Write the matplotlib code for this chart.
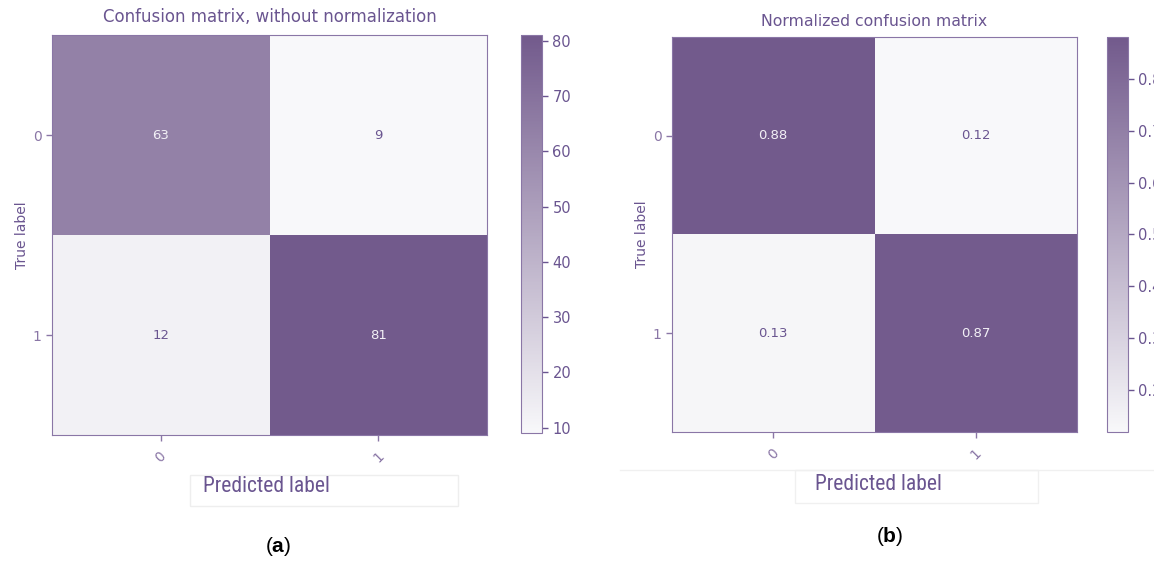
import numpy as np
import matplotlib as mpl
mpl.use("Agg")
import matplotlib.pyplot as plt
from matplotlib.colors import LinearSegmentedColormap
from matplotlib.patches import Rectangle
from matplotlib.lines import Line2D

mpl.rcParams['font.family'] = 'DejaVu Sans'
mpl.rcParams['mathtext.fontset'] = 'custom'
mpl.rcParams['mathtext.rm'] = 'Liberation Sans'
mpl.rcParams['mathtext.bf'] = 'Liberation Sans:bold'

# class labels and confusion matrices
classes = ['0', '1']
cm_counts = [[63, 9], [12, 81]]
cm_norm = [[0.88, 0.12], [0.13, 0.87]]
cbar_ticks_counts = [10, 20, 30, 40, 50, 60, 70, 80]
cbar_ticks_norm = [0.2, 0.3, 0.4, 0.5, 0.6, 0.7, 0.8]

txt_col = '#6a5590'
edge_col = '#8a76a6'
cmap = LinearSegmentedColormap.from_list('purp', ['#f8f8fa', '#725a8c'])
narrow = ['Roboto Condensed', 'DejaVu Sans Condensed', 'Open Sans']


def plot_cm(fig, ax_rect, cax_rect, cm, title, fmt, ticks, title_y, title_fs):
    cm = np.asarray(cm, dtype=float)
    ax = fig.add_axes(ax_rect)
    cax = fig.add_axes(cax_rect)
    im = ax.imshow(cm, interpolation='nearest', cmap=cmap, aspect='auto',
                   vmin=cm.min(), vmax=cm.max())
    ax.set_title(title, color=txt_col, fontsize=title_fs, y=title_y)
    cb = fig.colorbar(im, cax=cax, ticks=ticks)
    cb.outline.set_edgecolor(edge_col)
    cax.tick_params(colors=txt_col, labelsize=10.5, length=4, width=1)
    for t in cax.get_yticklabels():
        t.set_color(txt_col)

    ax.set_xticks(range(len(classes)))
    ax.set_xticklabels(classes, rotation=45, color=txt_col, fontsize=10)
    ax.set_yticks(range(len(classes)))
    ax.set_yticklabels(classes, color=txt_col, fontsize=10)
    ax.tick_params(colors=edge_col, length=4, width=1)
    ax.tick_params(axis='x', pad=6)
    for s in ax.spines.values():
        s.set_edgecolor(edge_col)
    ax.set_ylabel('True label', color=txt_col, fontsize=10, labelpad=3)

    thresh = cm.max() / 2.
    for i in range(cm.shape[0]):
        for j in range(cm.shape[1]):
            ax.text(j, i, format(cm[i, j], fmt), ha='center', va='center',
                    fontsize=9.5,
                    color='#f2f0f6' if cm[i, j] > thresh else txt_col)
    return ax


fig = plt.figure(figsize=(11.54, 5.61), dpi=100)

plot_cm(fig, [0.0451, 0.2246, 0.377, 0.713], [0.4515, 0.228, 0.0182, 0.709],
        cm_counts, 'Confusion matrix, without normalization', '.0f',
        cbar_ticks_counts, 1.012, 12)
plot_cm(fig, [0.5823, 0.23, 0.351, 0.704], [0.9593, 0.23, 0.0182, 0.704],
        cm_norm, 'Normalized confusion matrix', '.2f',
        cbar_ticks_norm, 1.006, 11.3)

# faint boxes behind the x axis labels
fig.patches.append(Rectangle((190 / 1154, 1 - 506 / 561), 268 / 1154, 31 / 561,
                             transform=fig.transFigure, fill=False,
                             edgecolor='#eeeeee', lw=1))
fig.patches.append(Rectangle((795 / 1154, 1 - 503 / 561), 243 / 1154, 33 / 561,
                             transform=fig.transFigure, fill=False,
                             edgecolor='#f0f0f0', lw=1))
fig.lines.append(Line2D([620 / 1154, 1.0], [1 - 470 / 561, 1 - 470 / 561],
                        transform=fig.transFigure, color='#f0f0f0', lw=1))

fig.text(266 / 1154, 1 - 486 / 561, 'Predicted label', family=narrow,
         fontsize=15.5, color=txt_col, ha='center', va='center')
fig.text(878 / 1154, 1 - 484 / 561, 'Predicted label', family=narrow,
         fontsize=15.5, color=txt_col, ha='center', va='center')

fig.text(278 / 1154, 1 - 547 / 561, r'($\mathbf{a}$)', family='Liberation Sans',
         fontsize=15, color='black', ha='center', va='center')
fig.text(890 / 1154, 1 - 537 / 561, r'($\mathbf{b}$)', family='Liberation Sans',
         fontsize=15, color='black', ha='center', va='center')

fig.savefig('out.png', dpi=100, facecolor='white')
